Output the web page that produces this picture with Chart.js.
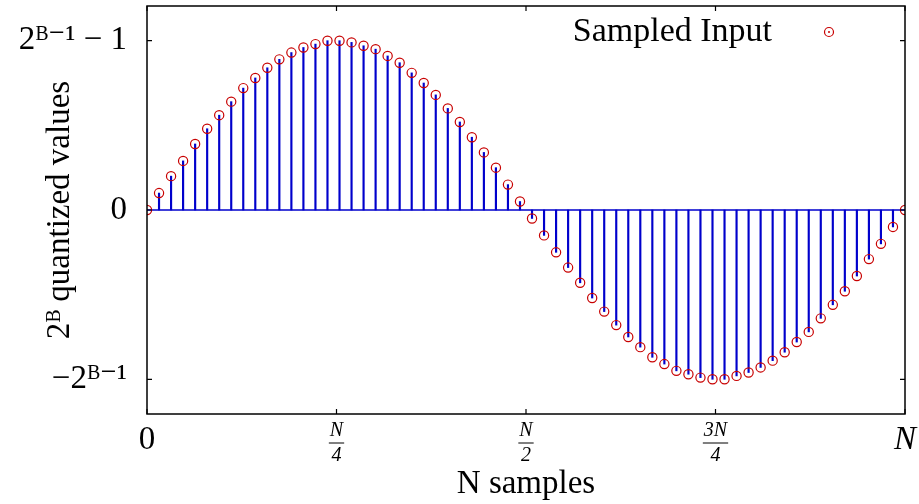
<!DOCTYPE html>
<html>
<head>
<meta charset="utf-8">
<script src="https://cdn.jsdelivr.net/npm/chart.js@4.4.1/dist/chart.umd.min.js"></script>
<style>
  html, body { margin: 0; padding: 0; background: #fff; }
  #wrap { width: 919px; height: 504px; }
</style>
</head>
<body>
<div id="wrap"><canvas id="stemChart" width="919" height="504"></canvas></div>
<script>
// valeurs (amplitude normalisée, 64 échantillons)
const seriesName = 'Sampled Input';
const sampleValues = [
  0, 0.10, 0.20, 0.29, 0.39, 0.48, 0.56, 0.64, 0.72, 0.78, 0.84, 0.89, 0.93, 0.96, 0.98, 1.00,
  1.00, 0.99, 0.97, 0.95, 0.91, 0.87, 0.81, 0.75, 0.68, 0.60, 0.52, 0.43, 0.34, 0.25, 0.15, 0.05,
  -0.05, -0.15, -0.25, -0.34, -0.43, -0.52, -0.60, -0.68, -0.75, -0.81, -0.87, -0.91, -0.95, -0.97, -0.99, -1.00,
  -1.00, -0.98, -0.96, -0.93, -0.89, -0.84, -0.78, -0.72, -0.64, -0.56, -0.48, -0.39, -0.29, -0.20, -0.10, 0
];
const xTickValues = [0, 15.75, 31.5, 47.25, 63];
const xTickLabels = ['0', ['N', '4'], ['N', '2'], ['3N', '4'], 'N'];
const yTickValues = [-1, 0, 1];
const yTickLabels = ['−2ᴮ⁻¹', '0', '2ᴮ⁻¹ − 1'];
const xTitle = 'N samples';
const yTitle = '2ᴮ quantized values';

const serif = "'Liberation Serif', 'DejaVu Serif', serif";
const stemColor = '#0000cc';
const pointColor = '#c80000';

const points = sampleValues.map((v, i) => ({ x: i, y: v }));
const lastIndex = sampleValues.length - 1;

Chart.defaults.font.family = serif;
Chart.defaults.color = '#000';

// cadre + petites graduations vers l'intérieur (style gnuplot)
const framePlugin = {
  id: 'frame',
  afterDatasetsDraw(chart) {
    const { ctx, chartArea: a, scales } = chart;
    ctx.save();
    ctx.strokeStyle = '#000';
    ctx.lineWidth = 1.5;
    ctx.strokeRect(a.left, a.top, a.right - a.left, a.bottom - a.top);
    ctx.lineWidth = 1.2;
    ctx.beginPath();
    xTickValues.forEach(v => {
      const px = scales.x.getPixelForValue(v);
      ctx.moveTo(px, a.bottom); ctx.lineTo(px, a.bottom - 5);
      ctx.moveTo(px, a.top); ctx.lineTo(px, a.top + 5);
    });
    yTickValues.forEach(v => {
      const py = scales.y.getPixelForValue(v);
      ctx.moveTo(a.left, py); ctx.lineTo(a.left + 5, py);
      ctx.moveTo(a.right, py); ctx.lineTo(a.right - 5, py);
    });
    ctx.stroke();
    ctx.restore();
  },
  afterDraw(chart) {
    const { ctx, scales } = chart;
    ctx.save();
    // barres de fraction sous N/4, N/2, 3N/4
    ctx.strokeStyle = '#000';
    ctx.lineWidth = 1;
    ctx.font = 'italic 20px ' + serif;
    xTickLabels.forEach((lab, i) => {
      if (!Array.isArray(lab)) return;
      const px = scales.x.getPixelForValue(xTickValues[i]);
      const w = Math.max(...lab.map(t => ctx.measureText(t).width)) + 2;
      ctx.beginPath();
      ctx.moveTo(px - w / 2, 443); ctx.lineTo(px + w / 2, 443);
      ctx.stroke();
    });
    // légende dans le cadre
    ctx.font = '34px ' + serif;
    ctx.fillStyle = '#000';
    ctx.textAlign = 'right';
    ctx.textBaseline = 'middle';
    ctx.fillText(seriesName, 772, 32);
    ctx.strokeStyle = pointColor;
    ctx.lineWidth = 1.2;
    ctx.beginPath();
    ctx.arc(829, 32, 4.5, 0, Math.PI * 2);
    ctx.stroke();
    ctx.fillStyle = pointColor;
    ctx.beginPath();
    ctx.arc(829, 32, 1, 0, Math.PI * 2);
    ctx.fill();
    ctx.restore();
  }
};

new Chart(document.getElementById('stemChart'), {
  type: 'bar',
  data: {
    datasets: [
      {
        type: 'scatter',
        label: seriesName,
        data: points,
        pointStyle: 'circle',
        pointRadius: 4.6,
        pointBorderWidth: 1.2,
        borderColor: pointColor,
        backgroundColor: 'rgba(0,0,0,0)',
        showLine: false,
        order: 0
      },
      {
        type: 'bar',
        label: 'stems',
        data: points,
        backgroundColor: stemColor,
        barThickness: 1.5,
        order: 1
      },
      {
        type: 'line',
        label: 'zero',
        data: [{ x: 0, y: 0 }, { x: lastIndex, y: 0 }],
        borderColor: stemColor,
        borderWidth: 1.5,
        pointRadius: 0,
        order: 2
      }
    ]
  },
  options: {
    responsive: false,
    devicePixelRatio: 1,
    animation: false,
    layout: { padding: { top: 6, right: 14, left: 0, bottom: 0 } },
    plugins: {
      legend: { display: false },
      tooltip: { enabled: false }
    },
    scales: {
      x: {
        type: 'linear',
        min: 0,
        max: lastIndex,
        offset: false,
        grid: { display: false, drawTicks: false },
        border: { display: false },
        afterBuildTicks: s => { s.ticks = xTickValues.map(v => ({ value: v })); },
        afterFit: s => { s.height = 90; s.paddingLeft = 0; s.paddingRight = 0; },
        ticks: {
          autoSkip: false,
          maxRotation: 0,
          padding: 4,
          color: '#000',
          callback: (v, i) => xTickLabels[i],
          font: c => (c.index === 0 || c.index === xTickValues.length - 1)
            ? { family: serif, size: 33, lineHeight: 1.36, style: c.index === 0 ? 'normal' : 'italic' }
            : { family: serif, size: 20, lineHeight: 1.25, style: 'italic' }
        },
        title: {
          display: true,
          text: xTitle,
          color: '#000',
          font: { family: serif, size: 33 },
          padding: { top: 0, bottom: 0 }
        }
      },
      y: {
        min: -1.205,
        max: 1.205,
        grid: { display: false, drawTicks: false },
        border: { display: false },
        afterBuildTicks: s => { s.ticks = yTickValues.map(v => ({ value: v })); },
        afterFit: s => { s.width = 147; s.paddingTop = 0; s.paddingBottom = 0; },
        ticks: {
          padding: 20,
          color: '#000',
          font: { family: serif, size: 33 },
          callback: (v, i) => yTickLabels[i]
        },
        title: {
          display: true,
          text: yTitle,
          color: '#000',
          font: { family: serif, size: 33 },
          padding: { top: 41, bottom: 0 }
        }
      }
    }
  },
  plugins: [framePlugin]
});
</script>
</body>
</html>
